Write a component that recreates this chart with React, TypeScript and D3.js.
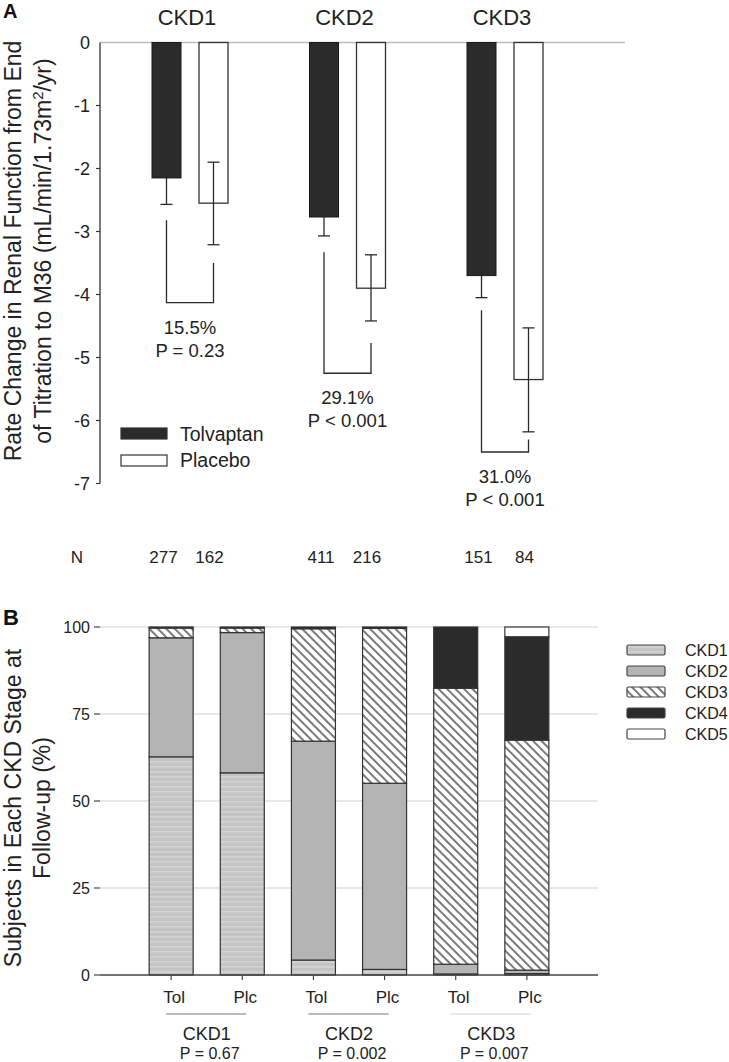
import React from "react";
import * as d3 from "d3";

const FONT = "'Liberation Sans', Arial, Helvetica, sans-serif";

// ---------- Panel A data ----------
const groupsA = ["CKD1", "CKD2", "CKD3"];
const tolvaptanMean = [-2.15, -2.77, -3.7];
const tolvaptanErrUpper = [-1.75, -2.46, -3.36];
const tolvaptanErrLower = [-2.57, -3.07, -4.05];
const placeboMean = [-2.55, -3.9, -5.35];
const placeboErrUpper = [-1.9, -3.37, -4.53];
const placeboErrLower = [-3.21, -4.42, -6.18];
const nTolvaptan = ["277", "411", "151"];
const nPlacebo = ["162", "216", "84"];
const reductionLabels = ["15.5%", "29.1%", "31.0%"];
const pValueLabelsA = ["P = 0.23", "P < 0.001", "P < 0.001"];
const bracketLeftTop = [-2.82, -3.33, -4.25];
const bracketRightTop = [-3.5, -4.77, -6.3];
const bracketBottom = [-4.13, -5.25, -6.5];
const yTicksA = [0, -1, -2, -3, -4, -5, -6, -7];
const legendA = ["Tolvaptan", "Placebo"];

// ---------- Panel B data ----------
const barsB = ["Tol", "Plc", "Tol", "Plc", "Tol", "Plc"];
const groupsB = ["CKD1", "CKD2", "CKD3"];
const pValueLabelsB = ["P = 0.67", "P = 0.002", "P = 0.007"];
const stages = ["CKD1", "CKD2", "CKD3", "CKD4", "CKD5"];
const pctCKD1 = [62.7, 58.1, 4.3, 1.6, 0.3, 0.4];
const pctCKD2 = [34.2, 40.3, 62.9, 53.5, 2.8, 1.0];
const pctCKD3 = [2.8, 1.3, 32.3, 44.5, 79.3, 66.1];
const pctCKD4 = [0.3, 0.3, 0.5, 0.4, 17.6, 29.7];
const pctCKD5 = [0, 0, 0, 0, 0, 2.8];
const yTicksB = [0, 25, 50, 75, 100];

const stageFill: Record<string, string> = {
  CKD1: "url(#hstripe)",
  CKD2: "#b4b4b4",
  CKD3: "url(#hatch)",
  CKD4: "#2b2b2b",
  CKD5: "#ffffff",
};

export default function App() {
  // Panel A scales
  const yA = d3.scaleLinear().domain([0, -7]).range([42.5, 483.5]);
  const xGroupA = d3.scaleLinear().domain([0, 2]).range([190, 505]);
  const barOffset = 23.5;
  const barW = 29;
  const capW = 12;
  const axisXA = 100;

  // Panel B scales
  const yB = d3.scaleLinear().domain([0, 100]).range([975, 627]);
  const xB = d3.scaleLinear().domain([0, 7]).range([100, 598]);
  const barWB = 44;

  const rows = barsB.map((_, i) => ({
    CKD1: pctCKD1[i],
    CKD2: pctCKD2[i],
    CKD3: pctCKD3[i],
    CKD4: pctCKD4[i],
    CKD5: pctCKD5[i],
  }));
  const series = d3.stack<any>().keys(stages)(rows);

  const errBar = (cx: number, hi: number, lo: number, key: string) => (
    <g key={key} stroke="#2a2a2a" strokeWidth={1.3}>
      <line x1={cx} x2={cx} y1={yA(hi)} y2={yA(lo)} />
      <line x1={cx - capW / 2} x2={cx + capW / 2} y1={yA(hi)} y2={yA(hi)} />
      <line x1={cx - capW / 2} x2={cx + capW / 2} y1={yA(lo)} y2={yA(lo)} />
    </g>
  );

  return (
    <svg
      width={729}
      height={1062}
      style={{ position: "absolute", left: 0, top: 0, background: "#fff" }}
      fontFamily={FONT}
    >
      <defs>
        <pattern id="hstripe" patternUnits="userSpaceOnUse" width={10} height={5}>
          <rect width={10} height={5} fill="#c4c4c4" />
          <rect y={1} width={10} height={1.6} fill="#d3d3d3" />
        </pattern>
        <pattern
          id="hatch"
          patternUnits="userSpaceOnUse"
          width={6}
          height={6}
          patternTransform="rotate(-45)"
        >
          <rect width={6} height={6} fill="#fff" />
          <line x1={3} y1={0} x2={3} y2={6} stroke="#222" strokeWidth={1.2} />
        </pattern>
      </defs>

      {/* ================= PANEL A ================= */}
      <text x={3} y={18} fontSize={20} fontWeight="bold" fill="#111">A</text>

      {/* y-axis title */}
      <text
        transform={`translate(21, 251) rotate(-90)`}
        textAnchor="middle"
        fontSize={23}
        fill="#222"
      >
        Rate Change in Renal Function from End
      </text>
      <text
        transform={`translate(51, 251) rotate(-90)`}
        textAnchor="middle"
        fontSize={23}
        fill="#222"
      >
        of Titration to M36 (mL/min/1.73m
        <tspan dy={-8} fontSize={15}>2</tspan>
        <tspan dy={8}>/yr)</tspan>
      </text>

      {/* zero line */}
      <line x1={axisXA} x2={625} y1={yA(0)} y2={yA(0)} stroke="#bdbdbd" strokeWidth={1.3} />

      {/* y axis */}
      <line x1={axisXA} x2={axisXA} y1={yA(0)} y2={yA(-7)} stroke="#333" strokeWidth={1.3} />
      {yTicksA.map((t) => (
        <g key={t}>
          {t !== 0 && (
            <line x1={axisXA - 4} x2={axisXA} y1={yA(t)} y2={yA(t)} stroke="#333" strokeWidth={1.2} />
          )}
          <text x={90} y={yA(t) + 6.5} textAnchor="end" fontSize={18} fill="#222">
            {t === 0 ? "0" : `-${Math.abs(t)}`}
          </text>
        </g>
      ))}

      {/* group titles */}
      {groupsA.map((g, i) => (
        <text key={g} x={xGroupA(i) - 3} y={25} textAnchor="middle" fontSize={22} fill="#222">
          {g}
        </text>
      ))}

      {/* bars */}
      {groupsA.map((g, i) => {
        const cT = xGroupA(i) - barOffset;
        const cP = xGroupA(i) + barOffset;
        return (
          <g key={g}>
            <rect
              x={cT - barW / 2}
              y={yA(0)}
              width={barW}
              height={yA(tolvaptanMean[i]) - yA(0)}
              fill="#2b2b2b"
              stroke="#1a1a1a"
              strokeWidth={1}
            />
            <rect
              x={cP - barW / 2}
              y={yA(0)}
              width={barW}
              height={yA(placeboMean[i]) - yA(0)}
              fill="#fff"
              stroke="#333"
              strokeWidth={1.3}
            />
            {errBar(cT, tolvaptanErrUpper[i], tolvaptanErrLower[i], "et" + i)}
            {errBar(cP, placeboErrUpper[i], placeboErrLower[i], "ep" + i)}
            {/* bracket */}
            <path
              d={`M${cT},${yA(bracketLeftTop[i])} V${yA(bracketBottom[i])} H${cP} V${yA(bracketRightTop[i])}`}
              fill="none"
              stroke="#2a2a2a"
              strokeWidth={1.3}
            />
            <text
              x={(cT + cP) / 2}
              y={yA(bracketBottom[i]) + 31}
              textAnchor="middle"
              fontSize={18.5}
              fill="#222"
            >
              {reductionLabels[i]}
            </text>
            <text
              x={(cT + cP) / 2}
              y={yA(bracketBottom[i]) + 54}
              textAnchor="middle"
              fontSize={18.5}
              fill="#222"
            >
              {pValueLabelsA[i]}
            </text>
            {/* N */}
            <text x={cT - 3} y={563} textAnchor="middle" fontSize={17} fill="#222">
              {nTolvaptan[i]}
            </text>
            <text x={cP - 4} y={563} textAnchor="middle" fontSize={17} fill="#222">
              {nPlacebo[i]}
            </text>
          </g>
        );
      })}
      <text x={77} y={563} textAnchor="middle" fontSize={17} fill="#222">N</text>

      {/* legend A */}
      {legendA.map((l, i) => (
        <g key={l}>
          <rect
            x={121}
            y={428 + i * 27}
            width={46}
            height={11}
            fill={i === 0 ? "#2b2b2b" : "#fff"}
            stroke="#333"
            strokeWidth={1.2}
          />
          <text x={180} y={441 + i * 26} fontSize={19.5} fill="#222">{l}</text>
        </g>
      ))}

      {/* ================= PANEL B ================= */}
      <text x={3} y={625} fontSize={22} fontWeight="bold" fill="#111">B</text>

      <text
        transform={`translate(21, 808) rotate(-90)`}
        textAnchor="middle"
        fontSize={23}
        fill="#222"
      >
        Subjects in Each CKD Stage at
      </text>
      <text
        transform={`translate(50, 808) rotate(-90)`}
        textAnchor="middle"
        fontSize={23}
        fill="#222"
      >
        Follow-up (%)
      </text>

      {/* gridlines & ticks */}
      {yTicksB.map((t) => (
        <g key={t}>
          {t > 0 && (
            <line x1={100} x2={598} y1={yB(t)} y2={yB(t)} stroke="#cfcfcf" strokeWidth={1.2} />
          )}
          <line x1={94} x2={100} y1={yB(t)} y2={yB(t)} stroke="#444" strokeWidth={1.2} />
          <text x={90} y={yB(t) + 5.5} textAnchor="end" fontSize={16} fill="#222">
            {t}
          </text>
        </g>
      ))}

      {/* stacked bars */}
      {series.map((s) => (
        <g key={s.key} fill={stageFill[s.key]}>
          {s.map((d, i) =>
            d[1] - d[0] > 0 ? (
              <rect
                key={i}
                x={xB(i + 1) - barWB / 2}
                y={yB(d[1])}
                width={barWB}
                height={yB(d[0]) - yB(d[1])}
                stroke="#333"
                strokeWidth={1.2}
              />
            ) : null
          )}
        </g>
      ))}

      {/* x axis */}
      <line x1={100} x2={598} y1={yB(0)} y2={yB(0)} stroke="#444" strokeWidth={1.6} />
      {barsB.map((b, i) => (
        <g key={i}>
          <line x1={xB(i + 1)} x2={xB(i + 1)} y1={yB(0)} y2={yB(0) + 5} stroke="#444" strokeWidth={1.2} />
          <text x={xB(i + 1) + 3} y={1003} textAnchor="middle" fontSize={17} fill="#222">
            {b}
          </text>
        </g>
      ))}

      {groupsB.map((g, gi) => {
        const a = xB(2 * gi + 1);
        const b = xB(2 * gi + 2);
        return (
          <g key={g}>
            <line
              x1={a - 5}
              x2={b + 4}
              y1={1014}
              y2={1014}
              stroke={gi === 2 ? "#d0d0d0" : "#777"}
              strokeWidth={1.2}
            />
            <text x={(a + b) / 2} y={1040} textAnchor="middle" fontSize={18} fill="#222">
              {g}
            </text>
            <text x={(a + b) / 2 + 3} y={1059} textAnchor="middle" fontSize={16} fill="#222">
              {pValueLabelsB[gi]}
            </text>
          </g>
        );
      })}

      {/* legend B */}
      {stages.map((s, i) => (
        <g key={s}>
          <rect
            x={627}
            y={645 + i * 21}
            width={38}
            height={10}
            rx={1.5}
            fill={stageFill[s]}
            stroke="#444"
            strokeWidth={1.2}
          />
          <text x={685} y={656 + i * 21} fontSize={16} fill="#222">{s}</text>
        </g>
      ))}
    </svg>
  );
}
